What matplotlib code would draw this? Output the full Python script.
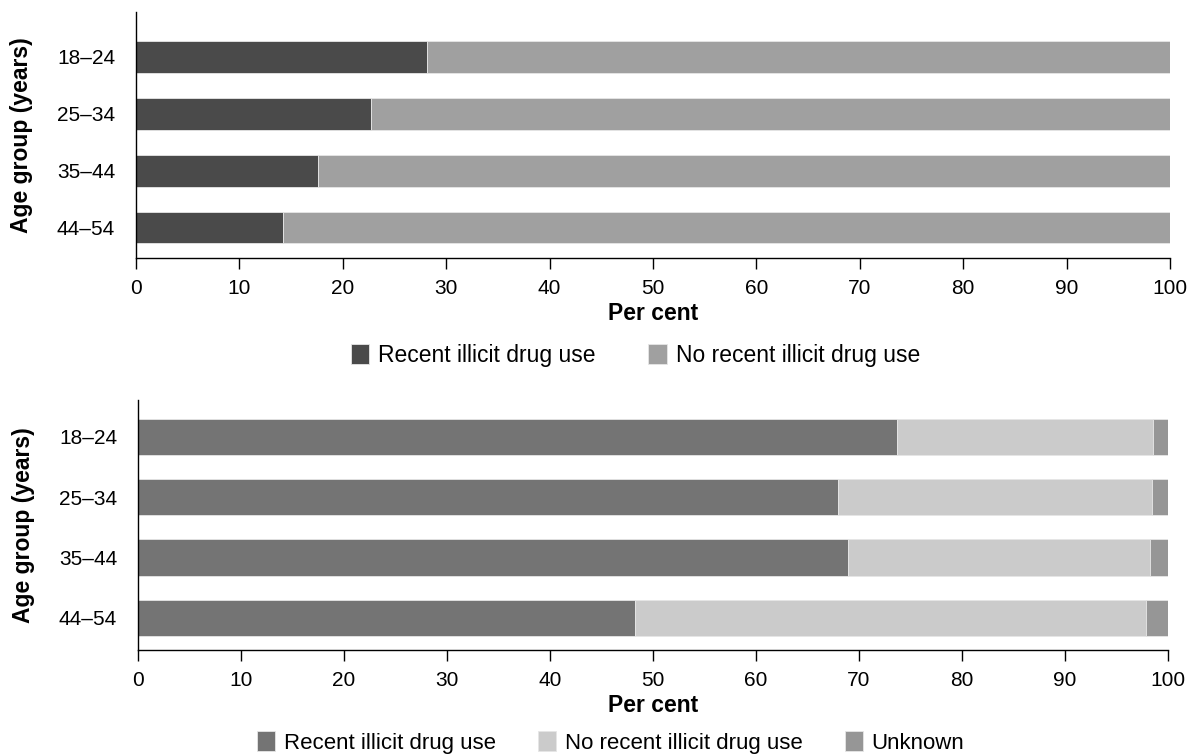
import numpy as np
import matplotlib.pyplot as plt

plt.rcParams['font.family'] = ['Liberation Sans', 'DejaVu Sans']

ages = ['18–24', '25–34', '35–44', '44–54']

# top panel
top_recent = [28.1, 22.7, 17.6, 14.2]
top_none = [71.9, 77.3, 82.4, 85.8]

# bottom panel
bot_recent = [73.7, 68.0, 68.9, 48.3]
bot_none = [24.8, 30.4, 29.4, 49.6]
bot_unknown = [1.5, 1.6, 1.7, 2.1]

fig = plt.figure(figsize=(11.92, 7.56), dpi=100)
ax1 = fig.add_axes([136/1192, 1-258/756, (1170-136)/1192, 246/756])
ax2 = fig.add_axes([138/1192, 1-650/756, (1168-138)/1192, 250/756])

y = np.arange(len(ages))

def style(ax, top_pad, bot_pad):
    ax.set_xlim(0, 100)
    ax.set_ylim(len(ages) - 1 + bot_pad, -top_pad)
    ax.set_yticks(y)
    ax.set_yticklabels(ages, fontsize=15)
    ax.set_xticks(np.arange(0, 101, 10))
    ax.tick_params(axis='x', labelsize=15, length=8, width=1, pad=7)
    ax.tick_params(axis='y', length=0, pad=15)
    for s in ['top', 'right']:
        ax.spines[s].set_visible(False)
    ax.spines['left'].set_linewidth(1)
    ax.spines['bottom'].set_linewidth(1)
    ax.set_xlabel('Per cent', fontsize=16.5, fontweight='bold', labelpad=3)
    ax.set_ylabel('Age group (years)', fontsize=16.5, fontweight='bold', labelpad=17)

h = 0.55
ax1.barh(y, top_recent, height=h, color='#4a4a4a', edgecolor='#e6e6e6', linewidth=0.6,
         label='Recent illicit drug use')
ax1.barh(y, top_none, left=top_recent, height=h, color='#a0a0a0', edgecolor='#e6e6e6',
         linewidth=0.6, label='No recent illicit drug use')
style(ax1, 0.79, 0.53)
ax1.legend(loc='center', bbox_to_anchor=(0.483, -0.395), ncol=2, frameon=False,
           fontsize=16.5, handlelength=0.8, handleheight=0.95, columnspacing=2.3,
           handletextpad=0.4)

h2 = 0.6
ax2.barh(y, bot_recent, height=h2, color='#747474', edgecolor='#e6e6e6', linewidth=0.6,
         label='Recent illicit drug use')
ax2.barh(y, bot_none, left=bot_recent, height=h2, color='#cbcbcb', edgecolor='#e6e6e6',
         linewidth=0.6, label='No recent illicit drug use')
left3 = np.array(bot_recent) + np.array(bot_none)
ax2.barh(y, bot_unknown, left=left3, height=h2, color='#969696', edgecolor='#e6e6e6',
         linewidth=0.6, label='Unknown')
style(ax2, 0.61, 0.53)
ax2.legend(loc='center', bbox_to_anchor=(0.459, -0.37), ncol=3, frameon=False,
           fontsize=16, handlelength=0.8, handleheight=0.95, columnspacing=1.9,
           handletextpad=0.4)

fig.savefig('out.png', dpi=100)
